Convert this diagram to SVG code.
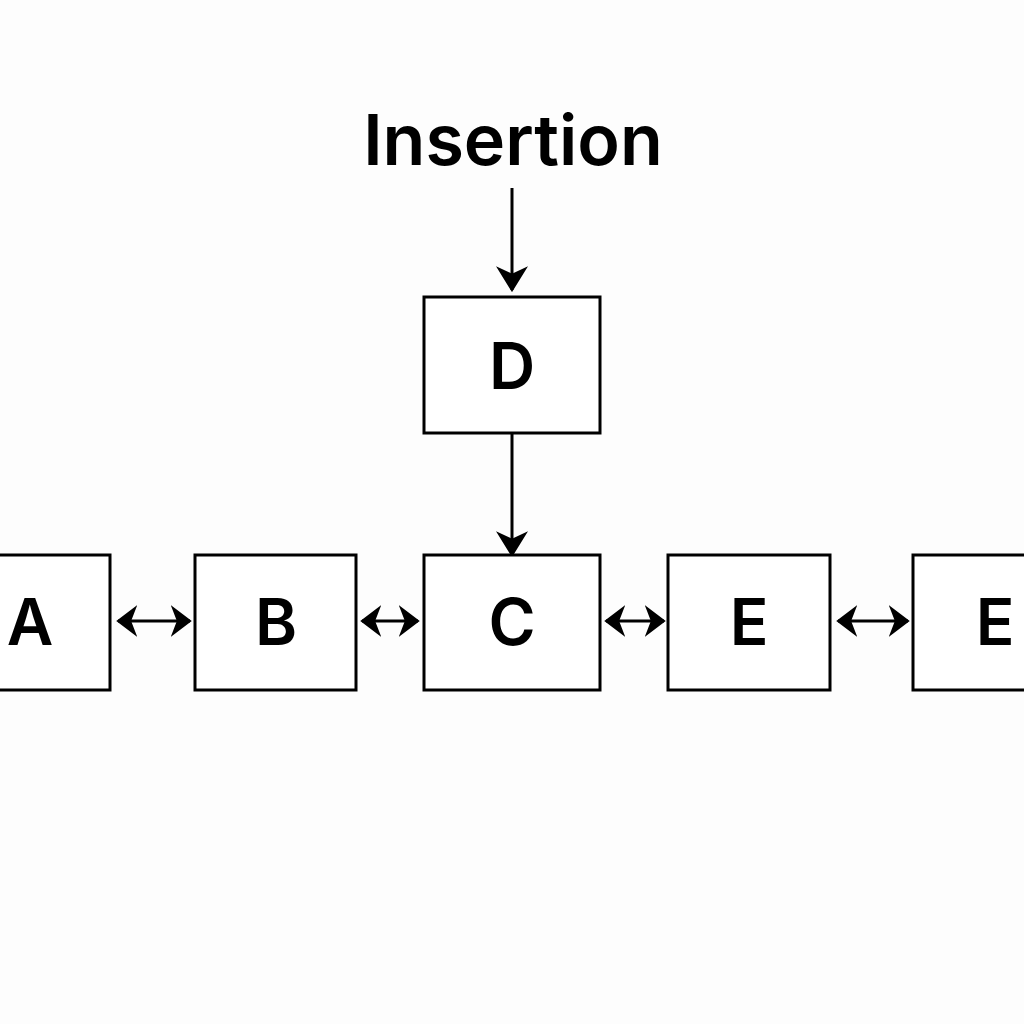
<svg xmlns="http://www.w3.org/2000/svg" width="1024" height="1024" viewBox="0 0 1024 1024">
<defs>
<style>
.box{fill:#fff;stroke:#000;stroke-width:3}
.lbl{font-family:Inter,"Liberation Sans",sans-serif;font-size:64px;font-weight:600;text-anchor:middle;fill:#000}
.ttl{font-family:Inter,"Liberation Sans",sans-serif;font-size:70px;font-weight:600;text-anchor:middle;fill:#000}
.ln{stroke:#000;stroke-width:3;fill:none}
</style>
<marker id="ahv" viewBox="0 0 12 12" refX="11" refY="6" markerWidth="26" markerHeight="32" markerUnits="userSpaceOnUse" orient="auto" preserveAspectRatio="none">
<path d="M0,0 L12,6 L0,12 L3.5,6 Z" fill="#000"/>
</marker>
<marker id="ahh" viewBox="0 0 12 12" refX="11" refY="6" markerWidth="21" markerHeight="32" markerUnits="userSpaceOnUse" orient="auto-start-reverse" preserveAspectRatio="none">
<path d="M0,0 L12,6 L0,12 L3.5,6 Z" fill="#000"/>
</marker>
</defs>
<rect width="1024" height="1024" fill="#fdfdfd"/>
<text class="ttl" x="513" y="165">Insertion</text>
<g id="connectors">
<line class="ln" x1="512" y1="188" x2="512" y2="290" marker-end="url(#ahv)"/>
<line class="ln" x1="512" y1="433" x2="512" y2="555" marker-end="url(#ahv)"/>
<line class="ln" x1="118" y1="621" x2="190" y2="621" marker-start="url(#ahh)" marker-end="url(#ahh)"/>
<line class="ln" x1="362" y1="621" x2="418" y2="621" marker-start="url(#ahh)" marker-end="url(#ahh)"/>
<line class="ln" x1="606" y1="621" x2="664" y2="621" marker-start="url(#ahh)" marker-end="url(#ahh)"/>
<line class="ln" x1="838" y1="621" x2="908" y2="621" marker-start="url(#ahh)" marker-end="url(#ahh)"/>
</g>
<g id="node-D"><rect class="box" x="424" y="297" width="176" height="136"/><text class="lbl" x="512" y="389">D</text></g>
<g id="node-A"><rect class="box" x="-60" y="555" width="170" height="135"/><text class="lbl" x="30" y="645">A</text></g>
<g id="node-B"><rect class="box" x="195" y="555" width="161" height="135"/><text class="lbl" x="276" y="645">B</text></g>
<g id="node-C"><rect class="box" x="424" y="555" width="176" height="135"/><text class="lbl" x="512" y="645">C</text></g>
<g id="node-E"><rect class="box" x="668" y="555" width="162" height="135"/><text class="lbl" x="749" y="645">E</text></g>
<g id="node-E2"><rect class="box" x="913" y="555" width="140" height="135"/><text class="lbl" x="995" y="645">E</text></g>
</svg>
